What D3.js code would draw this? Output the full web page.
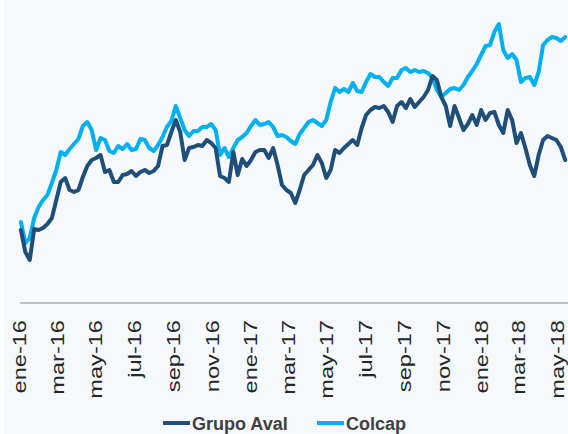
<!DOCTYPE html>
<html>
<head>
<meta charset="utf-8">
<script src="https://cdn.jsdelivr.net/npm/d3@7"></script>
<style>
  html, body { margin: 0; padding: 0; background: #fff; }
  svg { display: block; font-family: "Liberation Sans", Arial, sans-serif; }
</style>
</head>
<body>
<script>
// weekly closes, index base ~100 (jan-16)
const startDate = new Date(2016, 0, 4)

const grupoAval = [
	99, 88, 84, 99.5, 99, 100, 102, 105, 114, 123, 125, 119, 118, 119, 125.5, 131, 134, 135, 136.5, 128,
	129, 123, 123, 126.5, 127, 128.5, 126, 128, 129, 127.5, 128.5, 131, 141, 141.5, 148, 154, 148, 134, 140, 140.5,
	141.5, 141, 144, 142.5, 140, 126, 125, 123, 138, 126.5, 134.5, 131, 134, 138, 139, 139, 135, 140, 131.5, 121.5,
	119, 117.5, 112.5, 119, 126.5, 129, 131.5, 136.5, 132.5, 125, 129, 139, 137.5, 140, 142, 144, 141.5, 150, 156.5, 159,
	160.5, 160, 161, 158, 153, 161, 163, 160, 164.5, 160.5, 163, 165.5, 169, 176, 174, 165.5, 161, 151, 161, 155,
	149, 152, 156.5, 151.5, 159, 154, 157.5, 158, 151.5, 147.5, 159, 154, 142.5, 147.5, 140, 131.5, 126, 136.5, 144, 146,
	145, 144, 140.5, 134
]

const colcap = [
	103, 92.5, 95, 105, 110.5, 114, 116.5, 122.5, 129, 138, 136.5, 139.5, 142, 144.5, 151, 153, 149, 139, 145, 144,
	138.5, 137.5, 141, 139.5, 142, 139, 139.5, 144.5, 144, 140, 138.5, 141.5, 145.5, 150.5, 153.5, 161, 155, 149, 146, 148.5,
	148.5, 150.5, 150.5, 152, 149, 136.5, 140, 135.5, 140, 144, 145.5, 147.5, 151, 154, 151.5, 152, 153, 150.5, 146, 146.5,
	145.5, 143.5, 142, 147, 150, 153, 154, 152.5, 151, 154, 163, 170, 168, 169.5, 168, 172.5, 168.5, 168, 173, 177,
	175.5, 175.5, 173, 171, 175, 175, 179, 180, 178, 179, 178, 178.5, 177.5, 175, 169, 165.5, 167.5, 169.5, 170, 169,
	171.5, 175.5, 178.5, 182, 186.5, 191, 191.5, 198, 202, 189, 185, 187, 184, 173, 175, 175.5, 171.5, 178, 191.5, 194,
	195.5, 195, 193.5, 195.5
]

const monthNames = ['ene', 'feb', 'mar', 'abr', 'may', 'jun', 'jul', 'ago', 'sep', 'oct', 'nov', 'dic']
const tickDates = d3.timeMonth.range(new Date(2016, 0, 1), new Date(2018, 5, 1), 2)

const seriesNames = ['Grupo Aval', 'Colcap']
const seriesColors = ['#1f4e79', '#00b0f0']

const width = 568
const height = 434

const weeks = grupoAval.map((d, i) => d3.timeDay.offset(startDate, 7 * i))

const svg = d3.select('body')
	.append('svg')
	.attr('width', width)
	.attr('height', height)

svg.append('rect')
	.attr('x', 4)
	.attr('y', 0)
	.attr('width', width - 4)
	.attr('height', height)
	.attr('fill', '#f5f9fc')

const xScale = d3.scaleTime()
	.domain([new Date(2016, 0, 1), new Date(2018, 4, 1)])
	.range([19, 557])

const yScale = d3.scaleLinear()
	.domain([62.5, 207.5])
	.range([303, 13])

// x axis
const xAxis = svg.append('g')
	.attr('transform', `translate(0, ${yScale(62.5)})`)
	.call(d3.axisBottom(xScale)
		.tickValues(tickDates)
		.tickSize(0)
		.tickFormat(d => `${monthNames[d.getMonth()]}-${String(d.getFullYear()).slice(2)}`))

xAxis.select('.domain').remove()

xAxis.append('line')
	.attr('x1', 20)
	.attr('x2', width)
	.attr('stroke', '#bfbfbf')
	.attr('stroke-width', 2)

xAxis.selectAll('.tick text')
	.attr('fill', '#262626')
	.attr('font-size', 17.5)
	.attr('font-family', '"Liberation Sans", Arial, sans-serif')
	.attr('text-anchor', 'end')
	.attr('dy', null)
	.attr('y', null)
	.attr('transform', 'translate(6.5, 17) rotate(-90) scale(1.35, 1)')

// lines
const line = d3.line()
	.x((d, i) => xScale(weeks[i]))
	.y(d => yScale(d))

const plot = svg.append('g')

;[colcap, grupoAval].forEach((series, j) => {
	plot.append('path')
		.datum(series)
		.attr('fill', 'none')
		.attr('stroke', j === 0 ? seriesColors[1] : seriesColors[0])
		.attr('stroke-width', 4)
		.attr('stroke-linejoin', 'round')
		.attr('stroke-linecap', 'round')
		.attr('d', line)
})

// legend
const legend = svg.append('g')
	.attr('transform', 'translate(163, 0)')

const legendX = [0, 154]

seriesNames.forEach((name, i) => {
	const item = legend.append('g')
		.attr('transform', `translate(${legendX[i]}, 0)`)
	item.append('line')
		.attr('x1', 0)
		.attr('x2', 27)
		.attr('y1', 423)
		.attr('y2', 423)
		.attr('stroke', seriesColors[i])
		.attr('stroke-width', 4)
	item.append('text')
		.attr('x', 29)
		.attr('y', 430)
		.attr('font-size', 18)
		.attr('font-weight', 'bold')
		.attr('fill', '#404040')
		.text(name)
})
</script>
</body>
</html>
